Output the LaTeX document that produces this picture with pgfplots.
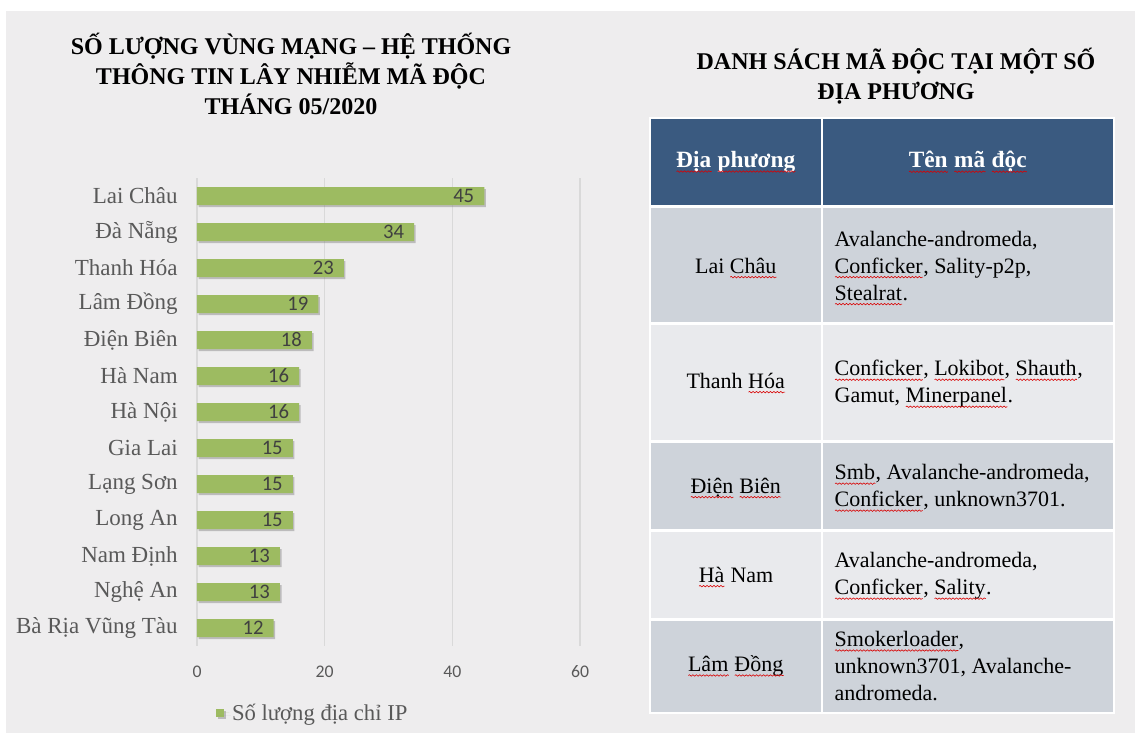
\documentclass[border=0pt]{standalone}
\usepackage{pgfplots}
\pgfplotsset{compat=1.18}
\usepackage{fontspec}
\setmainfont{Liberation Serif}
\newfontfamily\carlito{Carlito}
\usetikzlibrary{shadows,decorations.pathmorphing}
\definecolor{bg}{HTML}{EEEDEE}
\definecolor{barc}{HTML}{9DBB61}
\definecolor{gridc}{HTML}{D9D9D9}
\definecolor{labc}{HTML}{595959}
\definecolor{numc}{HTML}{404040}
\definecolor{hdr}{HTML}{3A5A80}
\definecolor{rowd}{HTML}{CED3DA}
\definecolor{rowl}{HTML}{E9EAED}
\newdimen\spw
\newsavebox\spbox
\newcommand\spell[1]{\sbox\spbox{#1}\spw=\wd\spbox\hbox{\rlap{\usebox\spbox}\tikz[baseline=0pt,x=1pt,y=1pt]\draw[red!85!black, line width=0.45pt, decorate, decoration={snake, amplitude=0.55pt, segment length=2.6pt}] (0pt,-3pt) -- (\the\spw,-3pt);}}
\pgfplotstableread{
idx val
0 45
1 34
2 23
3 19
4 18
5 16
6 16
7 15
8 15
9 15
10 13
11 13
12 12
}\datatab
\begin{document}
\begin{tikzpicture}[x=0.75pt,y=-0.75pt]
\fill[white] (0,0) rectangle (1135,733);
\fill[bg] (6,11) rectangle (1135,733);
% left title
\node[font=\bfseries\fontsize{18}{22.2}\selectfont, align=center] at (291,74)
  {SỐ LƯỢNG VÙNG MẠNG – HỆ THỐNG\\THÔNG TIN LÂY NHIỄM MÃ ĐỘC\\THÁNG 05/2020};
\begin{axis}[
  at={(147.75pt,-484.5pt)}, anchor=south west,
  scale only axis, width=287.25pt, height=351pt,
  xbar, bar width=13.5pt,
  xmin=0, xmax=60, ymin=-0.5, ymax=12.5, y dir=reverse,
  xtick={0,20,40,60},
  ytick={0,...,12},
  yticklabels={Lai Châu,Đà Nẵng,Thanh Hóa,Lâm Đồng,Điện Biên,Hà Nam,Hà Nội,Gia Lai,Lạng Sơn,Long An,Nam Định,Nghệ An,Bà Rịa Vũng Tàu},
  xmajorgrids, grid style={gridc, line width=0.9pt},
  axis line style={draw=none}, tick style={draw=none},
  /pgf/number format/assume math mode=true,
  xticklabel style={font=\carlito\fontsize{13.3}{16}\selectfont, text=labc, anchor=center, yshift=-19.5pt},
  yticklabel style={font=\fontsize{17.25}{20}\selectfont, text=labc, anchor=east, inner sep=0pt, xshift=-10pt},
  nodes near coords,
  nodes near coords align={anchor=east},
  every node near coord/.append style={font=\carlito\fontsize{15.5}{18}\selectfont, text=numc, anchor=east, xshift=-4pt},
  legend style={at={(0.303,-0.143)}, anchor=center, draw=none, fill=none,
    font=\fontsize{17}{20}\selectfont, text=labc},
  legend image code/.code={\fill[barc] (0pt,-3pt) rectangle (6pt,3pt); \path (0pt,0pt) -- (10pt,0pt);},
]
\addplot[fill=barc, draw=none, drop shadow={shadow xshift=1.2pt, shadow yshift=-1.6pt, opacity=0.45}] table[x=val, y=idx] {\datatab};
\addlegendentry{Số lượng địa chỉ IP}
\end{axis}
% right title
\node[font=\bfseries\fontsize{18}{22}\selectfont, align=center] at (896,76)
  {DANH SÁCH MÃ ĐỘC TẠI MỘT SỐ\\ĐỊA PHƯƠNG};
% table
\fill[white] (649,117) rectangle (1115,714);
\fill[hdr] (651,119) rectangle (821,205);
\fill[hdr] (823,119) rectangle (1113,205);
\fill[rowd] (651,208) rectangle (821,322); \fill[rowd] (823,208) rectangle (1113,322);
\fill[rowl] (651,325) rectangle (821,440); \fill[rowl] (823,325) rectangle (1113,440);
\fill[rowd] (651,443) rectangle (821,529); \fill[rowd] (823,443) rectangle (1113,529);
\fill[rowl] (651,532) rectangle (821,618); \fill[rowl] (823,532) rectangle (1113,618);
\fill[rowd] (651,621) rectangle (821,712); \fill[rowd] (823,621) rectangle (1113,712);
\begingroup
\tikzset{hd/.style={font=\bfseries\fontsize{17.5}{21}\selectfont, text=white},
  cc/.style={font=\fontsize{16.5}{20.25}\selectfont},
  cl/.style={font=\fontsize{16.5}{20.25}\selectfont, anchor=west, align=left}}
\node[hd] at (736,162) {\spell{Địa} \spell{phương}};
\node[hd] at (968,162) {\spell{Tên} \spell{mã} \spell{độc}};
\node[cc] at (736,268) {Lai \spell{Châu}};
\node[cc] at (736,383) {Thanh \spell{Hóa}};
\node[cc] at (736,488) {\spell{Điện} \spell{Biên}};
\node[cc] at (736,577) {\spell{Hà} Nam};
\node[cc] at (736,666) {\spell{Lâm} \spell{Đồng}};
\node[cl] at (830,268) {Avalanche-andromeda,\\\spell{Conficker}, Sality-p2p,\\\spell{Stealrat}.};
\node[cl] at (830,384) {\spell{Conficker}, \spell{Lokibot}, \spell{Shauth},\\Gamut, \spell{Minerpanel}.};
\node[cl] at (830,488) {\spell{Smb}, Avalanche-andromeda,\\\spell{Conficker}, unknown3701.};
\node[cl] at (830,576) {Avalanche-andromeda,\\\spell{Conficker}, \spell{Sality}.};
\node[cl] at (830,666) {\spell{Smokerloader},\\unknown3701, Avalanche-\\andromeda.};
\endgroup
\end{tikzpicture}
\end{document}
